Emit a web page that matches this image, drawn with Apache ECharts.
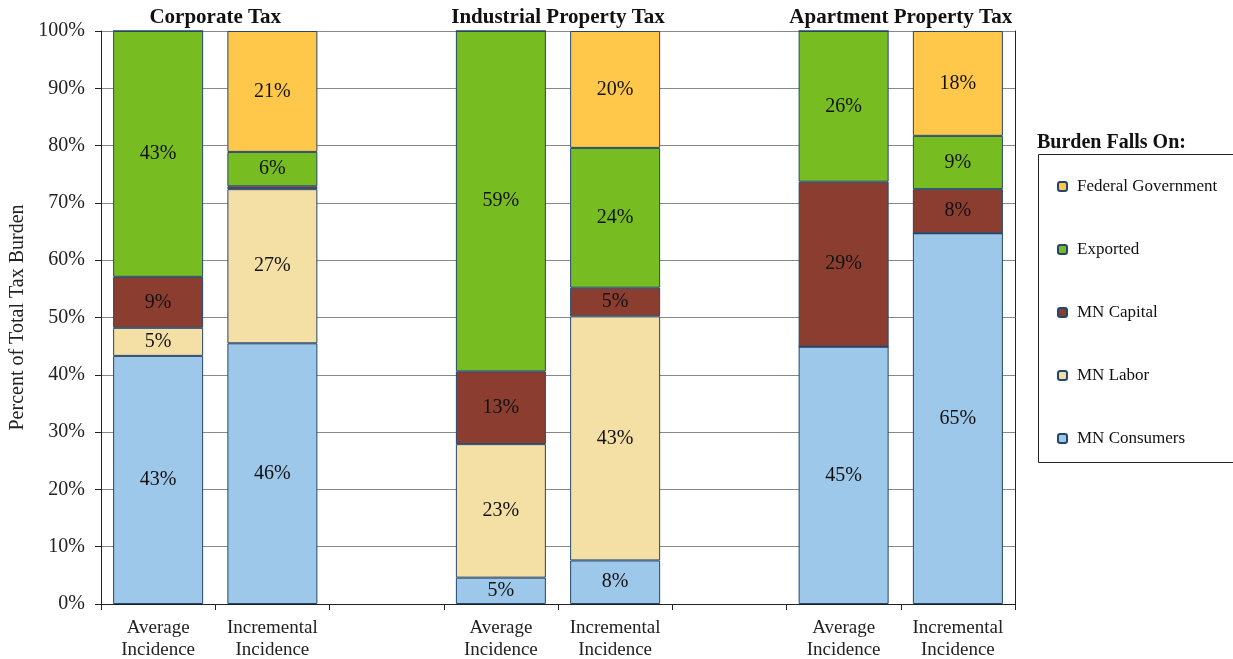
<!DOCTYPE html>
<html>
<head>
<meta charset="utf-8">
<script src="https://cdn.jsdelivr.net/npm/echarts@6/dist/echarts.min.js"></script>
<style>
  html, body { margin: 0; padding: 0; background: #fff; }
  #chart { width: 1233px; height: 659px; }
</style>
</head>
<body>
<div id="chart"></div>
<script>
const categories = ['Average\nIncidence', 'Incremental\nIncidence', '', 'Average\nIncidence', 'Incremental\nIncidence', ' ', 'Average\nIncidence', 'Incremental\nIncidence'];
const groupTitles = ['', 'Corporate Tax', '', '', 'Industrial Property Tax', '', '', 'Apartment Property Tax', ''];
const yTicks = [0, 10, 20, 30, 40, 50, 60, 70, 80, 90, 100];

const mnConsumers = [43.3, 45.5, null, 4.6, 7.6, null, 44.9, 64.7];
const mnLabor     = [4.9, 26.9, null, 23.3, 42.6, null, 0, 0];
const mnCapital   = [8.9, 0.5, null, 12.7, 5.0, null, 28.8, 7.7];
const exported    = [42.9, 6.0, null, 59.4, 24.4, null, 26.3, 9.3];
const federalGov  = [0, 21.1, null, 0, 20.4, null, 0, 18.3];

const seriesDefs = [
  { name: 'MN Consumers', data: mnConsumers, color: '#9dc8ea' },
  { name: 'MN Labor', data: mnLabor, color: '#f4dfa5' },
  { name: 'MN Capital', data: mnCapital, color: '#8b3e2f' },
  { name: 'Exported', data: exported, color: '#77bc21' },
  { name: 'Federal Government', data: federalGov, color: '#ffc84a' }
];

const serif = '"Liberation Serif", "Times New Roman", serif';
const chart = echarts.init(document.getElementById('chart'));

chart.setOption({
  animation: false,
  backgroundColor: '#ffffff',
  grid: { left: 101, right: 218, top: 31, bottom: 55, containLabel: false, outerBoundsMode: 'none' },
  graphic: [{
    type: 'rect',
    shape: { x: 1038.5, y: 154.5, width: 210, height: 308 },
    style: { fill: 'none', stroke: '#222', lineWidth: 1 }
  }, {
    type: 'text',
    x: 1037, y: 143,
    style: { text: 'Burden Falls On:', font: 'bold 20px ' + serif, fill: '#111', textVerticalAlign: 'middle' }
  }],
  legend: {
    orient: 'vertical',
    left: 1057,
    top: 178,
    data: ['Federal Government', 'Exported', 'MN Capital', 'MN Labor', 'MN Consumers'],
    itemWidth: 9,
    itemHeight: 9,
    itemGap: 46,
    padding: 0,
    textStyle: { fontFamily: serif, fontSize: 17, color: '#111', lineHeight: 16, padding: [0, 0, 0, 5] }
  },
  xAxis: [{
    type: 'category',
    data: categories,
    axisLine: { show: true, lineStyle: { color: '#222', width: 1 } },
    axisTick: { show: true, length: 6, lineStyle: { color: '#222' } },
    axisLabel: { interval: 0, fontFamily: serif, fontSize: 19, color: '#222', lineHeight: 22, margin: 13 },
    splitLine: { show: false }
  }, {
    type: 'category',
    position: 'top',
    boundaryGap: false,
    data: groupTitles,
    axisLine: { show: false },
    axisTick: { show: false },
    axisLabel: { interval: 0, fontFamily: serif, fontSize: 21, fontWeight: 'bold', color: '#111', margin: 3 }
  }],
  yAxis: [{
    type: 'value',
    min: 0,
    max: 100,
    interval: 10,
    name: 'Percent of Total Tax Burden',
    nameLocation: 'middle',
    nameGap: 73,
    nameTextStyle: { fontFamily: serif, fontSize: 20, color: '#222' },
    axisLine: { show: true, lineStyle: { color: '#222', width: 1 } },
    axisTick: { show: true, length: 6, lineStyle: { color: '#222' } },
    axisLabel: { formatter: function (v) { return yTicks.indexOf(v) >= 0 ? v + '%' : ''; }, fontFamily: serif, fontSize: 20, color: '#222', margin: 16 },
    splitLine: { show: true, lineStyle: { color: '#888888', width: 1 } }
  }, {
    type: 'value',
    position: 'right',
    min: 0,
    max: 100,
    interval: 10,
    axisLine: { show: true, lineStyle: { color: '#222', width: 1 } },
    axisTick: { show: false },
    axisLabel: { show: false },
    splitLine: { show: false }
  }],
  series: seriesDefs.map(function (s) {
    return {
      name: s.name,
      type: 'bar',
      stack: 'total',
      barWidth: 90,
      data: s.data,
      itemStyle: { color: s.color, borderColor: '#24466b', borderWidth: 1 },
      label: {
        show: true,
        position: 'inside',
        fontFamily: serif,
        fontSize: 20,
        color: '#111',
        formatter: function (p) { return (p.value == null || p.value < 1) ? '' : Math.round(p.value) + '%'; }
      }
    };
  })
});
</script>
</body>
</html>
